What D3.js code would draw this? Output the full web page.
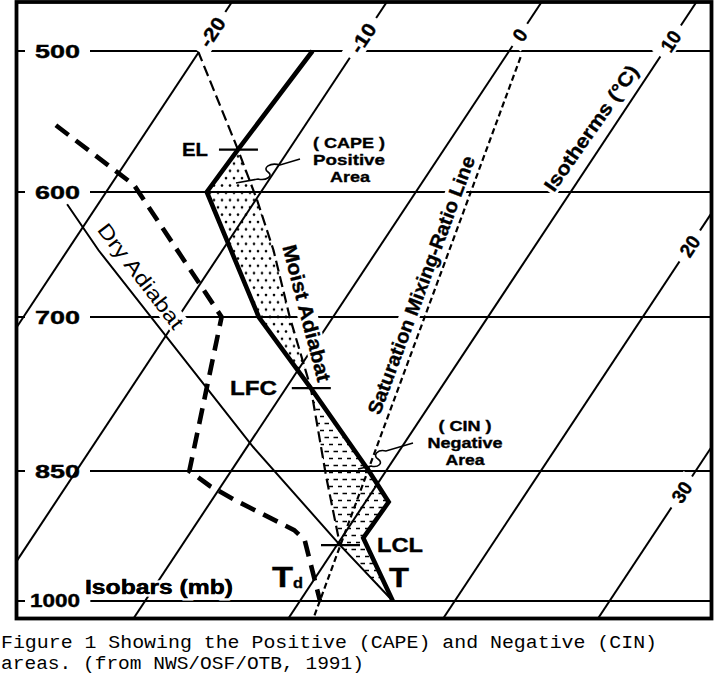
<!DOCTYPE html>
<html><head><meta charset="utf-8">
<script src="https://cdn.jsdelivr.net/npm/d3@7"></script>
<style>body{margin:0;background:#fff}svg{display:block}</style>
</head><body>
<svg id="c" width="725" height="676"></svg>
<script>
// ---------- data (pressure mb, temperature °C) ----------
const isobars = [500, 600, 700, 850, 1000];
const isobarLabels = ["500", "600", "700", "850", "1000"];
const isotherms = [-20, -10, 0, 10, 20, 30];
const isothermLabels = ["-20", "-10", "0", "10", "20", "30"];

const tempP = [500, 568, 600, 700, 765.6, 850, 883.6, 924.3, 1000];
const tempT = [-12.7, -13.3, -13.5, -4.8, 1.6, 8.9, 11.5, 11.4, 16.0];

const dewP = [550.4, 594.6, 700, 850, 866.3, 881.5, 915.2, 926.6, 1000];
const dewT = [-26.1, -18.5, -7.2, -2.7, -0.7, 1.5, 6.6, 7.7, 11.3];

const dryP = [609.1, 644.7, 824.7, 932.5, 1000];
const dryT = [-22.0, -18.0, 0.4, 10.2, 16.0];

const moistP = [500, 568, 606.1, 644.7, 700, 765.6, 856.4, 932.5];
const moistT = [-20.1, -13.3, -9.9, -6.7, -2.8, 1.6, 6.4, 10.2];

const mixP = [504, 1021];
const mixT = [1.0, 11.6];

const levelNames = ["EL", "LFC", "LCL"];
const levelP = [568, 765.6, 932.5];
const levelT = [-13.3, 1.6, 10.2];

// ---------- scales ----------
const FONT = "'Liberation Sans', Arial, Helvetica, sans-serif";
const frame = {x: 16.5, y: 2, w: 695, h: 616.5};
const y = d3.scaleLog().domain([500, 600, 700, 850, 1000]).range([51, 192, 317, 471, 601]);
const xT = d3.scaleLinear().domain([-20, 10]).range([199.5, 664]);
const SKEW = 0.662;
const px = (T, p) => xT(T) - SKEW * (y(p) - y(500));

const pts = (P, T) => P.map((p, i) => ({p, T: T[i]}));
const tempPts = pts(tempP, tempT), dewPts = pts(dewP, dewT), dryPts = pts(dryP, dryT),
      moistPts = pts(moistP, moistT), mixPts = pts(mixP, mixT), levels = pts(levelP, levelT);
const line = d3.line().x(d => px(d.T, d.p)).y(d => y(d.p));

const svg = d3.select("#c");
const defs = svg.append("defs");
defs.append("clipPath").attr("id", "clipf").append("rect")
  .attr("x", frame.x).attr("y", frame.y).attr("width", frame.w).attr("height", frame.h);
const dots = defs.append("pattern").attr("id", "dots").attr("patternUnits", "userSpaceOnUse")
  .attr("width", 8).attr("height", 14.6);
dots.append("circle").attr("cx", 2).attr("cy", 3).attr("r", 1.3).attr("fill", "#000");
dots.append("circle").attr("cx", 6).attr("cy", 10.3).attr("r", 1.3).attr("fill", "#000");
const dsh = defs.append("pattern").attr("id", "dashes").attr("patternUnits", "userSpaceOnUse")
  .attr("width", 9).attr("height", 14);
dsh.append("path").attr("d", "M0.5,3.5H5M5,10.5H9.5").attr("stroke", "#000").attr("stroke-width", 1.4);

const plot = svg.append("g").attr("clip-path", "url(#clipf)");

// ---------- areas ----------
const [EL, LFC, LCL] = levels;
const capePoly = [...tempPts.filter(d => d.p >= EL.p && d.p <= LFC.p),
                  ...moistPts.filter(d => d.p >= EL.p && d.p <= LFC.p).reverse()];
const cinPoly = [...tempPts.filter(d => d.p >= LFC.p),
                 ...dryPts.filter(d => d.p >= LCL.p).reverse(),
                 ...moistPts.filter(d => d.p >= LFC.p && d.p <= LCL.p).reverse()];
plot.append("path").attr("d", line(capePoly) + "Z").attr("fill", "url(#dots)");
plot.append("path").attr("d", line(cinPoly) + "Z").attr("fill", "url(#dashes)");

// ---------- isotherms ----------
const pTop = y.invert(frame.y), pBot = y.invert(frame.y + frame.h);
isotherms.forEach(T => {
  plot.append("line").attr("x1", px(T, pTop)).attr("y1", y(pTop))
    .attr("x2", px(T, pBot)).attr("y2", y(pBot))
    .attr("stroke", "#000").attr("stroke-width", 2);
});

// ---------- special lines ----------
plot.append("path").attr("d", line(dryPts)).attr("fill", "none").attr("stroke", "#000").attr("stroke-width", 2);
plot.append("path").attr("d", line(mixPts)).attr("fill", "none").attr("stroke", "#000")
  .attr("stroke-width", 2.2).attr("stroke-dasharray", "6,3.5");
plot.append("path").attr("d", line(moistPts)).attr("fill", "none").attr("stroke", "#000")
  .attr("stroke-width", 2.2).attr("stroke-dasharray", "11,5");
plot.append("path").attr("d", line(dewPts)).attr("fill", "none").attr("stroke", "#000")
  .attr("stroke-width", 4.6).attr("stroke-dasharray", "16,9");
plot.append("path").attr("d", line(tempPts)).attr("fill", "none").attr("stroke", "#000")
  .attr("stroke-width", 4.6).attr("stroke-linejoin", "miter");

// ---------- isobars ----------
isobars.forEach((p, i) => {
  const t = svg.append("text").attr("x", 80).attr("y", y(p)).attr("dy", "0.36em")
    .attr("text-anchor", "end").attr("font-family", FONT).attr("font-weight", "bold")
    .attr("font-size", isobarLabels[i].length > 3 ? 17.5 : 19)
    .attr("stroke", "#000").attr("stroke-width", 0.4)
    .attr("textLength", isobarLabels[i].length > 3 ? 50 : 45).attr("lengthAdjust", "spacingAndGlyphs")
    .text(isobarLabels[i]);
  const b = t.node().getBBox();
  svg.append("line").attr("x1", frame.x).attr("x2", 25).attr("y1", y(p)).attr("y2", y(p))
    .attr("stroke", "#000").attr("stroke-width", 2);
  svg.append("line").attr("x1", b.x + b.width + 10).attr("x2", frame.x + frame.w).attr("y1", y(p)).attr("y2", y(p))
    .attr("stroke", "#000").attr("stroke-width", 2);
});

// ---------- helpers ----------
function label(g, txt, x, yy, size, len, weight, anchor) {
  const t = g.append("text").attr("x", x).attr("y", yy).attr("font-family", FONT)
    .attr("font-weight", weight || "bold").attr("font-size", size)
    .attr("text-anchor", anchor || "start")
    .attr("textLength", len).attr("lengthAdjust", "spacingAndGlyphs").text(txt);
  if ((weight || "bold") === "bold") t.attr("stroke", "#000").attr("stroke-width", 0.35);
  return t;
}
function rotLabel(txt, cx, cy, angle, size, len, weight, pad) {
  const g = svg.append("g").attr("transform", `translate(${cx},${cy}) rotate(${angle})`);
  const t = g.append("text").attr("text-anchor", "middle").attr("dy", "0.36em")
    .attr("font-family", FONT).attr("font-weight", weight || "bold").attr("font-size", size)
    .attr("textLength", len).attr("lengthAdjust", "spacingAndGlyphs").text(txt);
  if ((weight || "bold") === "bold") t.attr("stroke", "#000").attr("stroke-width", 0.35);
  if (pad !== undefined) {
    const b = t.node().getBBox();
    g.insert("rect", "text").attr("x", b.x - pad).attr("y", b.y + 1).attr("width", b.width + 2 * pad)
      .attr("height", b.height - 2).attr("fill", "#fff");
  }
  return g;
}

// ---------- isotherm labels ----------
const isoAngle = -Math.atan(1 / SKEW) * 180 / Math.PI;
const isoLabelY = {"-20": 32, "-10": 38, "0": 35, "10": 41, "20": 246, "30": 492};
isotherms.forEach((T, i) => {
  const yy = isoLabelY[isothermLabels[i]];
  const p = y.invert(yy);
  const n = isothermLabels[i].length;
  rotLabel(isothermLabels[i], px(T, p), yy, isoAngle, 19.5, n * 10.5, "bold", 8);
});

// ---------- text labels along lines ----------
rotLabel("Saturation Mixing-Ratio Line", 421, 285, -69.6, 19.5, 274, "bold", 2);
rotLabel("Isotherms (\u00B0C)", 591, 128, -55, 19.5, 149, "bold", 2);
rotLabel("Moist Adiabat", 307, 313, 75.3, 20, 141, "bold", 2);
rotLabel("Dry Adiabat", 141, 276, 52.5, 20.5, 127, "normal", 3);

// ---------- level markers ----------
levels.forEach((d, i) => {
  const x = px(d.T, d.p), yy = y(d.p);
  svg.append("line").attr("x1", x - 19).attr("x2", x + 20).attr("y1", yy).attr("y2", yy)
    .attr("stroke", "#000").attr("stroke-width", 2.2);
});
label(svg, levelNames[0], 182, y(EL.p) + 6.8, 19, 26);
label(svg, levelNames[1], 230, y(LFC.p) + 7, 19.5, 47);
label(svg, levelNames[2], 377, 552, 19.5, 46);

// ---------- curve labels ----------
label(svg, "T", 389, 587, 28, 20);
label(svg, "T", 272, 587, 29, 21);
label(svg, "d", 293, 588, 15, 10);
const isoG = svg.append("text").attr("x", 85).attr("y", 594).attr("font-family", FONT)
  .attr("font-weight", "bold").attr("font-size", 19.5).attr("textLength", 148)
  .attr("lengthAdjust", "spacingAndGlyphs").attr("stroke", "#fff").attr("stroke-width", 5)
  .attr("paint-order", "stroke").text("Isobars (mb)");
label(svg, "Isobars (mb)", 85, 594, 19.5, 148);

// CAPE / CIN labels
label(svg, "( CAPE )", 349, 148, 15.5, 72, "bold", "middle");
label(svg, "Positive", 349, 165, 15.5, 72, "bold", "middle");
label(svg, "Area", 350, 182, 15.5, 40, "bold", "middle");
label(svg, "( CIN )", 465, 431, 14.5, 53, "bold", "middle");
label(svg, "Negative", 465, 448, 14.5, 75, "bold", "middle");
label(svg, "Area", 465, 465, 14.5, 39, "bold", "middle");

// leaders
svg.append("path").attr("d", "M300,159 L280,165 C270,162 262,168 268,172 C274,176 266,181 258,179 L236,183")
  .attr("fill", "none").attr("stroke", "#000").attr("stroke-width", 1.6);
svg.append("path").attr("d", "M413,443 L386,451 C378,449 372,455 378,459 C384,463 378,468 371,466 L358,469")
  .attr("fill", "none").attr("stroke", "#000").attr("stroke-width", 1.6);

// ---------- frame ----------
svg.append("rect").attr("x", frame.x).attr("y", frame.y).attr("width", frame.w).attr("height", frame.h)
  .attr("fill", "none").attr("stroke", "#000").attr("stroke-width", 3.8);

// ---------- caption ----------
const CAP = "'Courier New', 'Nimbus Mono PS', 'Liberation Mono', monospace";
svg.append("text").attr("x", 1).attr("y", 648).attr("font-family", CAP).attr("font-size", 17.5)
  .attr("textLength", 656).attr("lengthAdjust", "spacingAndGlyphs")
  .text("Figure 1 Showing the Positive (CAPE) and Negative (CIN)");
svg.append("text").attr("x", 1).attr("y", 669).attr("font-family", CAP).attr("font-size", 17.5)
  .attr("textLength", 363).attr("lengthAdjust", "spacingAndGlyphs")
  .text("areas. (from NWS/OSF/OTB, 1991)");
</script>
</body></html>
